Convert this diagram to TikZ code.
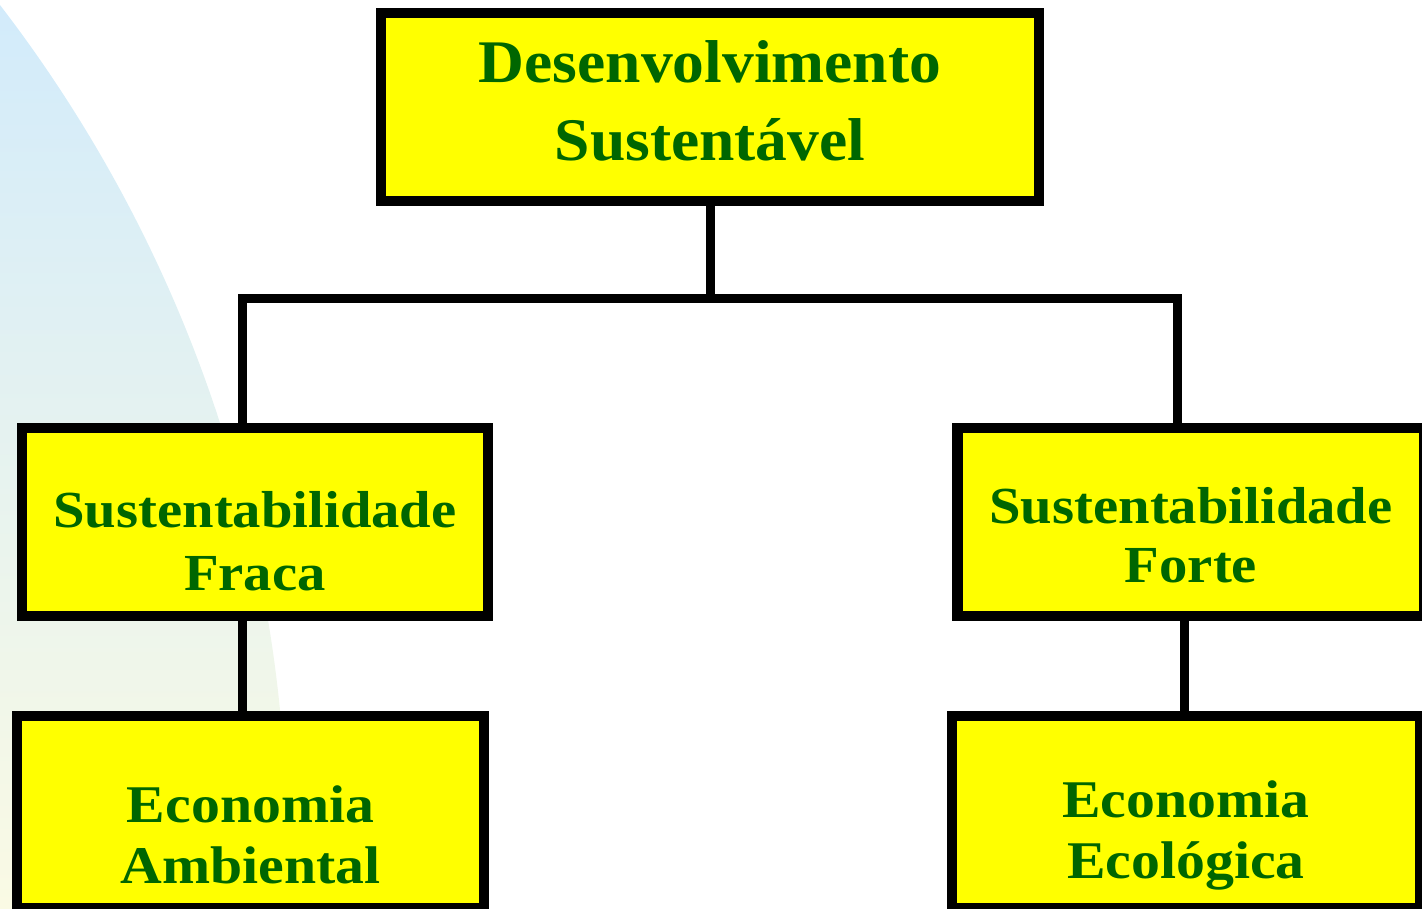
\documentclass[tikz,border=0pt]{standalone}
\usepackage{fontspec}
\setmainfont{Liberation Serif}
\newfontfamily\topfont{Liberation Serif}[FakeStretch=1.05]
\newfontfamily\subfont{Liberation Serif}[FakeStretch=1.09]
\definecolor{txtgreen}{RGB}{0,102,0}
\definecolor{boxyellow}{RGB}{255,255,0}
\definecolor{bgtop}{RGB}{210,235,251}
\definecolor{bgmid}{RGB}{230,245,242}
\definecolor{bgbot}{RGB}{250,250,228}
\tikzset{
  boxnode/.style={draw=black, line width=10.5pt, fill=boxyellow, text=txtgreen,
    align=center, inner sep=0pt, text height=145pt},
  link/.style={draw=black, line width=9pt, line join=miter, line cap=rect}
}
\begin{document}
\begin{tikzpicture}[x=1pt,y=-1pt]
\useasboundingbox (0,0) rectangle (1422,908);
% background arc
\begin{scope}
  \clip (-1100,850) circle[radius=1387pt];
  \shade[top color=bgtop, middle color=bgmid, bottom color=bgbot] (0,0) rectangle (1422,908);
\end{scope}
% coordinates for connectors
\coordinate (jl) at (242.5,298.5);
\coordinate (jr) at (1177,298.5);
\coordinate (ll) at (242,0);
\coordinate (lr) at (1184.5,0);
% boxes (named)
\path
  node[boxnode, minimum width=658pt, minimum height=188pt, text depth=39pt,
       font=\topfont\bfseries\fontsize{60.5}{78}\selectfont] (top) at (710,107)
       {Desenvolvimento\\Sustentável}
  node[boxnode, minimum width=466pt, minimum height=188pt, text depth=9pt,
       font=\subfont\bfseries\fontsize{52}{63}\selectfont] (midL) at (255,522)
       {Sustentabilidade\\Fraca}
  node[boxnode, minimum width=467pt, minimum height=188pt, text depth=25pt,
       font=\subfont\bfseries\fontsize{52}{59}\selectfont] (midR) at (1191,522)
       {Sustentabilidade\\Forte}
  node[boxnode, minimum width=467pt, minimum height=192pt, text depth=3pt,
       font=\subfont\bfseries\fontsize{53}{61}\selectfont] (botL) at (250.5,812)
       {Economia\\Ambiental}
  node[boxnode, minimum width=468pt, minimum height=192pt, text depth=13pt,
       font=\subfont\bfseries\fontsize{53}{61}\selectfont] (botR) at (1186,812)
       {Economia\\Ecológica};
% connectors
\draw[link] (top.south) -- (top.south |- jl);
\draw[link] (jl |- midL.north) -- (jl) -- (jr) -- (jr |- midR.north);
\draw[link] (midL.south -| ll) -- (botL.north -| ll);
\draw[link] (midR.south -| lr) -- (botR.north -| lr);
% box borders on top of connector ends
\foreach \n in {top,midL,midR,botL,botR}{
  \draw[line width=10.5pt] (\n.north west) ++(5.25,5.25) rectangle ([shift={(-5.25,-5.25)}]\n.south east);
}
\end{tikzpicture}
\end{document}
